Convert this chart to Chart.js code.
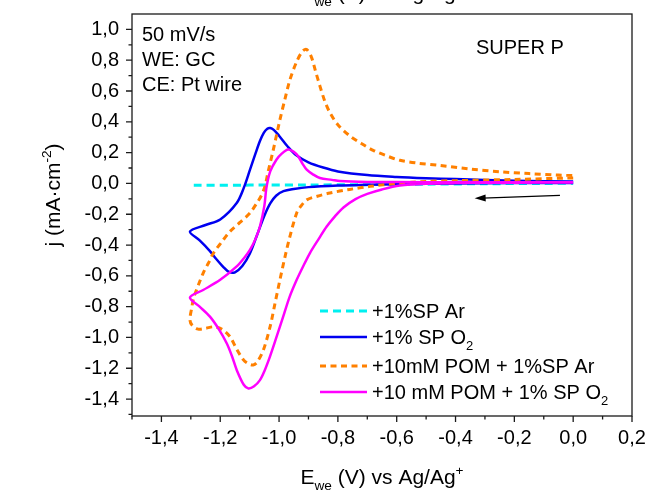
<!DOCTYPE html>
<html>
<head>
<meta charset="utf-8">
<script src="https://cdn.jsdelivr.net/npm/chart.js@4.4.1/dist/chart.umd.min.js"></script>
<style>
  html, body { margin: 0; padding: 0; background: #fff; }
  #wrap { width: 646px; height: 491px; }
</style>
</head>
<body>
<div id="wrap"><canvas id="cv" width="646" height="491"></canvas></div>
<script>
// axis ticks
const xTicks = [-1.4, -1.2, -1.0, -0.8, -0.6, -0.4, -0.2, 0.0, 0.2];
const xMinor = [-1.5, -1.3, -1.1, -0.9, -0.7, -0.5, -0.3, -0.1, 0.1];
const yTicks = [-1.4, -1.2, -1.0, -0.8, -0.6, -0.4, -0.2, 0.0, 0.2, 0.4, 0.6, 0.8, 1.0];
const yMinor = [-1.5, -1.3, -1.1, -0.9, -0.7, -0.5, -0.3, -0.1, 0.1, 0.3, 0.5, 0.7, 0.9];

// +1%SP Ar
const cyanE = [-1.29, -1.1, -0.9, -0.7, -0.5, -0.3, -0.1, 0.0];
const cyanJ = [-0.012, -0.011, -0.01, -0.008, -0.005, -0.002, 0.0, 0.001];

// +1% SP O2 (cathodic scan then anodic return)
const blueE = [0.0, -0.2, -0.4, -0.6, -0.7, -0.8, -0.9, -0.95, -0.985, -1.01, -1.03, -1.05, -1.076, -1.1, -1.125, -1.15, -1.17, -1.19, -1.215, -1.235, -1.27, -1.303,
  -1.25, -1.2, -1.144, -1.12, -1.099, -1.08, -1.065, -1.052, -1.04, -1.03, -1.018, -1.0, -0.97, -0.94, -0.9, -0.85, -0.8, -0.7, -0.6, -0.5, -0.4, -0.2, 0.0];
const blueJ = [0.003, 0.002, 0.0, -0.005, -0.009, -0.014, -0.024, -0.036, -0.05, -0.08, -0.13, -0.21, -0.341, -0.458, -0.536, -0.577, -0.575, -0.541, -0.487, -0.439, -0.37, -0.312,
  -0.27, -0.234, -0.127, -0.029, 0.088, 0.195, 0.275, 0.328, 0.355, 0.36, 0.348, 0.31, 0.238, 0.181, 0.137, 0.103, 0.078, 0.054, 0.042, 0.034, 0.028, 0.018, 0.012];

// +10mM POM + 1%SP Ar
const orangeE = [0.0, -0.2, -0.4, -0.5, -0.6, -0.69, -0.76, -0.827, -0.87, -0.906, -0.925, -0.94, -0.963, -0.98, -0.997, -1.015, -1.03, -1.053, -1.075, -1.088, -1.105, -1.121, -1.145, -1.167, -1.195, -1.223, -1.25, -1.275, -1.295, -1.303,
  -1.297, -1.29, -1.275, -1.258, -1.24, -1.223, -1.195, -1.167, -1.133, -1.099, -1.075, -1.06, -1.048, -1.037, -1.02, -0.997, -0.98, -0.963, -0.94, -0.92, -0.906, -0.89, -0.875, -0.861, -0.845, -0.827, -0.8, -0.759, -0.72, -0.68, -0.63, -0.589, -0.53, -0.453, -0.35, -0.25, -0.15, -0.05, 0.0];
const orangeJ = [0.036, 0.026, 0.018, 0.013, 0.0, -0.019, -0.039, -0.062, -0.083, -0.107, -0.146, -0.192, -0.344, -0.478, -0.626, -0.79, -0.926, -1.08, -1.161, -1.179, -1.17, -1.146, -1.073, -0.995, -0.946, -0.931, -0.941, -0.946, -0.922, -0.887,
  -0.809, -0.741, -0.663, -0.582, -0.517, -0.452, -0.38, -0.312, -0.253, -0.192, -0.126, -0.078, -0.019, 0.078, 0.215, 0.414, 0.547, 0.673, 0.791, 0.859, 0.87, 0.82, 0.722, 0.632, 0.537, 0.459, 0.381, 0.308, 0.259, 0.215, 0.176, 0.15, 0.132, 0.117, 0.093, 0.076, 0.064, 0.054, 0.051];

// +10 mM POM + 1% SP O2
const magentaE = [0.0, -0.2, -0.4, -0.5, -0.589, -0.65, -0.7, -0.74, -0.781, -0.81, -0.838, -0.865, -0.895, -0.92, -0.94, -0.965, -0.986, -1.01, -1.031, -1.05, -1.065, -1.085, -1.104, -1.12, -1.144, -1.16, -1.178, -1.205, -1.235, -1.27, -1.303,
  -1.258, -1.2, -1.144, -1.12, -1.099, -1.08, -1.065, -1.05, -1.043, -1.03, -1.009, -0.99, -0.969, -0.95, -0.935, -0.92, -0.906, -0.885, -0.861, -0.82, -0.793, -0.7, -0.5, -0.3, 0.0];
const magentaJ = [0.006, 0.005, 0.002, -0.002, -0.014, -0.039, -0.068, -0.102, -0.156, -0.214, -0.28, -0.36, -0.452, -0.546, -0.626, -0.741, -0.865, -1.005, -1.124, -1.219, -1.277, -1.317, -1.331, -1.307, -1.211, -1.122, -1.038, -0.946, -0.865, -0.8, -0.741,
  -0.692, -0.626, -0.539, -0.487, -0.431, -0.36, -0.28, -0.146, -0.029, 0.078, 0.154, 0.195, 0.22, 0.205, 0.176, 0.127, 0.089, 0.059, 0.035, 0.023, 0.015, 0.01, 0.008, 0.008, 0.008];

// scan direction arrow (data coords)
const arrowE = [-0.045, -0.335];
const arrowJ = [-0.078, -0.097];

const FONT = "'Liberation Sans', Arial, sans-serif";

function pts(xs, ys) {
  return xs.map((v, i) => ({ x: v, y: ys[i] }));
}

function fmt(v) {
  return v.toFixed(1).replace('.', ',');
}

// text with sub/superscripts
function richWidth(ctx, parts, size) {
  let w = 0;
  parts.forEach(p => {
    ctx.font = (p.sub || p.sup ? size * 0.65 : size) + 'px ' + FONT;
    w += ctx.measureText(p.t).width;
  });
  return w;
}
function drawRich(ctx, parts, x, y, size, align) {
  let cx = align === 'center' ? x - richWidth(ctx, parts, size) / 2 : x;
  ctx.textAlign = 'left';
  ctx.textBaseline = 'alphabetic';
  parts.forEach(p => {
    const s = p.sub || p.sup ? size * 0.65 : size;
    ctx.font = s + 'px ' + FONT;
    const dy = p.sub ? size * 0.3 : (p.sup ? -size * 0.42 : 0);
    ctx.fillText(p.t, cx, y + dy);
    cx += ctx.measureText(p.t).width;
  });
}

const xTitle = [{ t: 'E' }, { t: 'we', sub: true }, { t: ' (V) vs Ag/Ag' }, { t: '+', sup: true }];
const yTitle = [{ t: 'j (mA\u00b7cm' }, { t: '-2', sup: true }, { t: ')' }];
const legendParts = [
  [{ t: '+1%SP Ar' }],
  [{ t: '+1% SP O' }, { t: '2', sub: true }],
  [{ t: '+10mM POM + 1%SP Ar' }],
  [{ t: '+10 mM POM + 1% SP O' }, { t: '2', sub: true }]
];

const decor = {
  id: 'decor',
  afterDatasetsDraw(chart) {
    const { ctx, chartArea: a, scales } = chart;
    const sx = scales.x, sy = scales.y;
    ctx.save();
    ctx.fillStyle = '#000';

    // frame
    ctx.strokeStyle = '#1a1a1a';
    ctx.lineWidth = 1.3;
    ctx.strokeRect(a.left, a.top, a.right - a.left, a.bottom - a.top);

    // ticks outside
    ctx.beginPath();
    xTicks.forEach(v => { const p = sx.getPixelForValue(v); ctx.moveTo(p, a.bottom); ctx.lineTo(p, a.bottom + 6); });
    xMinor.forEach(v => { const p = sx.getPixelForValue(v); ctx.moveTo(p, a.bottom); ctx.lineTo(p, a.bottom + 3.5); });
    yTicks.forEach(v => { const p = sy.getPixelForValue(v); ctx.moveTo(a.left, p); ctx.lineTo(a.left - 6, p); });
    yMinor.forEach(v => { const p = sy.getPixelForValue(v); ctx.moveTo(a.left, p); ctx.lineTo(a.left - 3.5, p); });
    ctx.stroke();

    // arrow
    const ax0 = sx.getPixelForValue(arrowE[0]), ay0 = sy.getPixelForValue(arrowJ[0]);
    const ax1 = sx.getPixelForValue(arrowE[1]), ay1 = sy.getPixelForValue(arrowJ[1]);
    const ang = Math.atan2(ay1 - ay0, ax1 - ax0);
    ctx.strokeStyle = '#000';
    ctx.lineWidth = 1.2;
    ctx.beginPath();
    ctx.moveTo(ax0, ay0);
    ctx.lineTo(ax1 - 8 * Math.cos(ang), ay1 - 8 * Math.sin(ang));
    ctx.stroke();
    ctx.beginPath();
    ctx.moveTo(ax1, ay1);
    ctx.lineTo(ax1 - 11 * Math.cos(ang) + 3.5 * Math.sin(ang), ay1 - 11 * Math.sin(ang) - 3.5 * Math.cos(ang));
    ctx.lineTo(ax1 - 11 * Math.cos(ang) - 3.5 * Math.sin(ang), ay1 - 11 * Math.sin(ang) + 3.5 * Math.cos(ang));
    ctx.closePath();
    ctx.fill();

    // notes
    ctx.font = '20px ' + FONT;
    ctx.textAlign = 'left';
    ctx.textBaseline = 'middle';
    ctx.fillText('50 mV/s', a.left + 10, 35);
    ctx.fillText('WE: GC', a.left + 10, 60);
    ctx.fillText('CE: Pt wire', a.left + 10, 85);
    ctx.fillText('SUPER P', 476, 48);

    // legend
    const rows = [311, 337, 366, 392];
    chart.data.datasets.forEach((ds, i) => {
      ctx.save();
      ctx.strokeStyle = ds.borderColor;
      ctx.lineWidth = ds.borderWidth;
      ctx.setLineDash(ds.borderDash || []);
      ctx.beginPath();
      ctx.moveTo(320, rows[i]);
      ctx.lineTo(367, rows[i]);
      ctx.stroke();
      ctx.restore();
      ctx.fillStyle = '#000';
      drawRich(ctx, legendParts[i], 372, rows[i] + 7, 20, 'left');
    });

    // axis titles
    const cxm = (a.left + a.right) / 2;
    drawRich(ctx, xTitle, cxm, 484, 21, 'center');
    drawRich(ctx, xTitle, cxm, 0, 21, 'center');
    ctx.save();
    ctx.translate(52, 195);
    ctx.rotate(-Math.PI / 2);
    drawRich(ctx, yTitle, 0, 8, 21, 'center');
    ctx.restore();

    ctx.restore();
  }
};

function noPad(s) {
  s.paddingLeft = 0; s.paddingRight = 0; s.paddingTop = 0; s.paddingBottom = 0;
}

const ctx = document.getElementById('cv');
const chart = new Chart(ctx, {
  type: 'scatter',
  data: {
    datasets: [
      { label: '+1%SP Ar', data: pts(cyanE, cyanJ), borderColor: '#00F0F0', borderWidth: 3, borderDash: [8, 5], order: 4 },
      { label: '+1% SP O2', data: pts(blueE, blueJ), borderColor: '#0000F0', borderWidth: 2.5, order: 3 },
      { label: '+10mM POM + 1%SP Ar', data: pts(orangeE, orangeJ), borderColor: '#FF8000', borderWidth: 3, borderDash: [6, 4.5], order: 2 },
      { label: '+10 mM POM + 1% SP O2', data: pts(magentaE, magentaJ), borderColor: '#FF00FF', borderWidth: 2.5, order: 1 }
    ]
  },
  options: {
    responsive: false,
    animation: false,
    showLine: true,
    elements: { point: { radius: 0 }, line: { tension: 0.32, fill: false } },
    layout: { padding: { top: 14, right: 14, left: 0, bottom: 0 } },
    plugins: { legend: { display: false }, tooltip: { enabled: false } },
    scales: {
      x: {
        type: 'linear',
        min: -1.5, max: 0.2,
        afterBuildTicks: s => { s.ticks = xTicks.map(v => ({ value: v })); },
        afterFit: s => { s.height = 75; noPad(s); },
        grid: { display: false, drawTicks: false },
        border: { display: false },
        ticks: { callback: v => fmt(v), color: '#000', font: { size: 20, family: FONT }, padding: 10, maxRotation: 0, autoSkip: false }
      },
      y: {
        type: 'linear',
        min: -1.51, max: 1.1,
        afterBuildTicks: s => { s.ticks = yTicks.map(v => ({ value: v })); },
        afterFit: s => { s.width = 132; noPad(s); },
        grid: { display: false, drawTicks: false },
        border: { display: false },
        ticks: { callback: v => fmt(v), color: '#000', font: { size: 20, family: FONT }, padding: 13, autoSkip: false }
      }
    }
  },
  plugins: [decor]
});
</script>
</body>
</html>
